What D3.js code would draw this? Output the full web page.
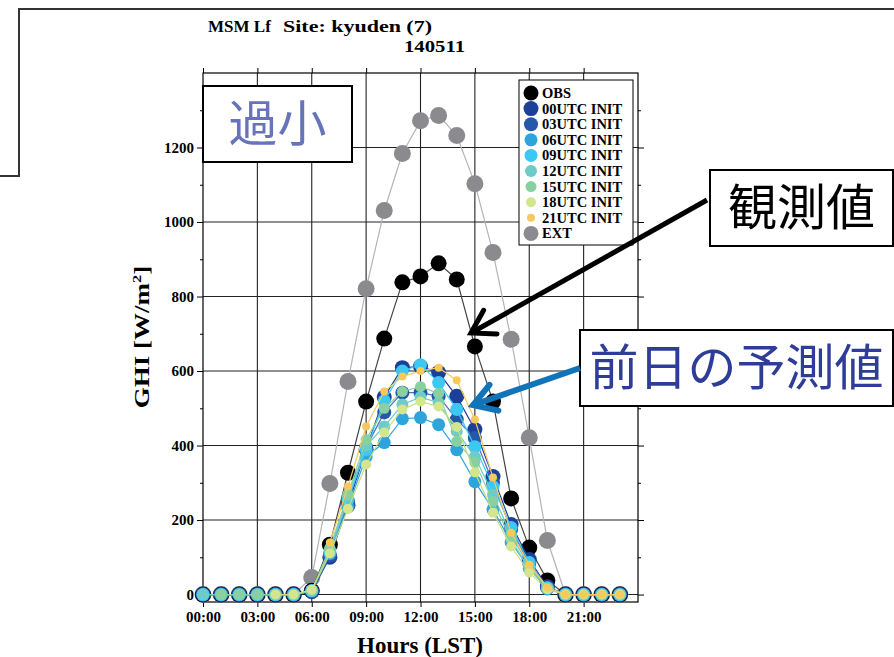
<!DOCTYPE html>
<html>
<head>
<meta charset="utf-8">
<script src="https://cdn.jsdelivr.net/npm/d3@7"></script>
<style>
  body { margin: 0; background: #fff; }
  svg text { font-family: "Liberation Serif", "Times New Roman", serif; font-weight: bold; fill: #000; }
  svg text.jp { font-family: "Noto Sans CJK JP", sans-serif; font-weight: normal; }
</style>
</head>
<body>
<svg id="chart" width="894" height="657"></svg>
<script>
// hours of the day (LST)
const hours = [0,1,2,3,4,5,6,7,8,9,10,11,12,13,14,15,16,17,18,19,20,21,22,23];

// GHI [W/m2], null = no forecast for that hour
const ext   = [0,0,0,0,0,0,46,298,572,821,1031,1184,1272,1286,1232,1103,918,685,421,145,0,0,0,0];
const obs   = [0,0,0,0,0,0,10,134,327,518,687,838,854,889,846,666,518,258,126,38,0,0,0,0];
const f00   = [0,0,0,0,0,0,8,100,240,390,530,609,612,596,532,443,317,188,94,21,0,0,0,0];
const f03   = [0,0,0,0,0,0,9,105,250,395,489,542,542,532,470,420,300,175,85,18,0,0,0,0];
const f06   = [0,0,0,0,0,0,10,110,235,370,408,472,475,456,389,303,228,140,70,15,0,0,0,0];
const f09   = [0,0,0,0,0,0,10,115,255,389,520,600,617,569,497,397,290,180,86,18,0,0,0,0];
const f12   = [0,0,0,0,0,0,10,120,265,400,451,510,530,515,438,370,268,160,75,17,0,0,0,0];
const f15   = [null,0,0,0,0,0,11,125,270,416,500,545,558,540,411,355,250,148,68,16,0,0,0,0];
const f18   = [null,null,null,null,0,0,13,110,230,349,435,497,518,505,450,328,220,129,59,14,0,0,0,0];
const f21   = [null,null,null,null,null,null,null,140,290,451,545,585,600,609,575,470,314,166,80,19,0,0,0,0];

const seriesNames  = ["EXT","OBS","00UTC INIT","03UTC INIT","06UTC INIT","09UTC INIT","12UTC INIT","15UTC INIT","18UTC INIT","21UTC INIT"];
const seriesValues = [ext, obs, f00, f03, f06, f09, f12, f15, f18, f21];
const legendOrder  = ["OBS","00UTC INIT","03UTC INIT","06UTC INIT","09UTC INIT","12UTC INIT","15UTC INIT","18UTC INIT","21UTC INIT","EXT"];

const xTicks = [0,3,6,9,12,15,18,21];
const yTicks = [0,200,400,600,800,1000,1200];
const yMinor = [100,300,500,700,900,1100,1300];

const style = {
  "EXT":        {fill: "#8b8b8f", line: "#b4b4b4", r: 8.5},
  "OBS":        {fill: "#000000", line: "#444444", r: 8},
  "00UTC INIT": {fill: "#1c3f98", line: "#1c3f98", r: 7.5},
  "03UTC INIT": {fill: "#2658aa", line: "#4b6fba", r: 7},
  "06UTC INIT": {fill: "#2ea4dd", line: "#2ea4dd", r: 6.5},
  "09UTC INIT": {fill: "#3cc8f3", line: "#3cc8f3", r: 6.5},
  "12UTC INIT": {fill: "#6ecbc8", line: "#6ecbc8", r: 6},
  "15UTC INIT": {fill: "#88d0a0", line: "#88d0a0", r: 5.5},
  "18UTC INIT": {fill: "#d3e58d", line: "#c5de7c", r: 5},
  "21UTC INIT": {fill: "#f5c95b", line: "#f5c95b", r: 4}
};

const svg = d3.select("#chart");

// slide frame behind the chart
svg.append("path")
  .attr("d", "M0,176 H19 V9 H894")
  .attr("fill", "none").attr("stroke", "#333").attr("stroke-width", 2);

const x = d3.scaleLinear().domain([0, 24]).range([203, 638]);
const y = d3.scaleLinear().domain([-20, 1400]).range([602, 73]);

// grid
svg.append("g").selectAll("line").data(yTicks).enter().append("line")
  .attr("x1", x(0)).attr("x2", x(24))
  .attr("y1", d => y(d)).attr("y2", d => y(d))
  .attr("stroke", "#222").attr("stroke-width", 1.1);
svg.append("g").selectAll("line").data(xTicks.slice(1)).enter().append("line")
  .attr("x1", d => x(d)).attr("x2", d => x(d))
  .attr("y1", y(1400)).attr("y2", y(-20))
  .attr("stroke", "#222").attr("stroke-width", 1.1);

svg.append("rect")
  .attr("x", x(0)).attr("y", y(1400))
  .attr("width", x(24) - x(0)).attr("height", y(-20) - y(1400))
  .attr("fill", "none").attr("stroke", "#000").attr("stroke-width", 1.2);

// axes
function styleAxis(g) {
  g.select(".domain").remove();
  g.selectAll(".tick line").attr("stroke", "#000");
  g.selectAll("text").attr("font-size", 15).attr("fill", "#000")
    .attr("font-family", "Liberation Serif, Times New Roman, serif").attr("font-weight", "bold");
}
svg.append("g").attr("transform", `translate(${x(0)},0)`)
  .call(d3.axisLeft(y).tickValues(yTicks).tickSize(6).tickPadding(3).tickFormat(d3.format("d"))).call(styleAxis);
svg.append("g").attr("transform", `translate(${x(0)},0)`)
  .call(d3.axisLeft(y).tickValues(yMinor).tickSize(3).tickFormat("")).call(styleAxis);
svg.append("g").attr("transform", `translate(${x(24)},0)`)
  .call(d3.axisRight(y).tickValues(yTicks).tickSize(6).tickFormat("")).call(styleAxis);
svg.append("g").attr("transform", `translate(${x(24)},0)`)
  .call(d3.axisRight(y).tickValues(yMinor).tickSize(3).tickFormat("")).call(styleAxis);
svg.append("g").attr("transform", `translate(0,${y(-20)})`)
  .call(d3.axisBottom(x).tickValues(xTicks).tickSize(5).tickPadding(4)
    .tickFormat(d => String(d).padStart(2, "0") + ":00")).call(styleAxis);
svg.append("g").attr("transform", `translate(0,${y(1400)})`)
  .call(d3.axisTop(x).tickValues(xTicks).tickSize(5).tickFormat("")).call(styleAxis);

// series
const line = d3.line()
  .defined(d => d.v != null)
  .x(d => x(d.h)).y(d => y(d.v));

seriesNames.forEach((name, i) => {
  const pts = hours.map((h, j) => ({h: h, v: seriesValues[i][j]}));
  const s = style[name];
  const g = svg.append("g");
  g.append("path").datum(pts)
    .attr("d", line)
    .attr("fill", "none").attr("stroke", s.line).attr("stroke-width", 1.2);
  g.selectAll("circle").data(pts.filter(d => d.v != null)).enter().append("circle")
    .attr("cx", d => x(d.h)).attr("cy", d => y(d.v)).attr("r", s.r)
    .attr("fill", s.fill);
});

// legend
const lg = svg.append("g");
lg.append("rect").attr("x", 519).attr("y", 80).attr("width", 114).attr("height", 165)
  .attr("fill", "#fff").attr("stroke", "#000").attr("stroke-width", 1);
legendOrder.forEach((name, i) => {
  const yy = 93 + i * 15.6;
  lg.append("circle").attr("cx", 531).attr("cy", yy)
    .attr("r", Math.min(style[name].r, 7.5)).attr("fill", style[name].fill);
  lg.append("text").attr("x", 542).attr("y", yy + 5)
    .attr("font-size", 14.5).text(name);
});

// titles
function fitText(tx, ty, size, len, str, anchor) {
  return svg.append("text").attr("x", tx).attr("y", ty).attr("font-size", size)
    .attr("text-anchor", anchor || "start")
    .attr("textLength", len).attr("lengthAdjust", "spacingAndGlyphs").text(str);
}
svg.append("text").attr("x", 208).attr("y", 32).attr("font-size", 17).text("MSM Lf");
fitText(283, 32, 17, 149, "Site: kyuden (7)");
fitText(404, 52, 17, 61, "140511");

const yl = svg.append("text")
  .attr("transform", "translate(149,337) rotate(-90) scale(1.35,1)")
  .attr("text-anchor", "middle").attr("font-size", 20);
yl.append("tspan").text("GHI [W/m");
yl.append("tspan").attr("font-size", 12).attr("dy", -8).text("2");
yl.append("tspan").attr("dy", 8).text("]");

svg.append("text").attr("x", 420).attr("y", 653).attr("text-anchor", "middle")
  .attr("font-size", 23).text("Hours (LST)");

// callout boxes
function callout(bx, by, bw, bh, label, color) {
  svg.append("rect").attr("x", bx).attr("y", by).attr("width", bw).attr("height", bh)
    .attr("fill", "#fff").attr("stroke", "#000").attr("stroke-width", 2);
  svg.append("text").attr("class", "jp")
    .attr("x", bx + bw / 2).attr("y", by + bh / 2 + 17)
    .attr("text-anchor", "middle").attr("font-size", 49)
    .style("fill", color).text(label);
}
callout(203, 86, 149, 76, "過小", "#6874ba");
callout(710, 170, 183, 76, "観測値", "#000");
callout(580, 330, 313, 76, "前日の予測値", "#2e3d98");

// arrows
function arrow(x1, y1, x2, y2, color, w) {
  const a = Math.atan2(y2 - y1, x2 - x1);
  const len = 26, spread = 0.55;
  svg.append("line").attr("x1", x1).attr("y1", y1).attr("x2", x2 - 3 * Math.cos(a)).attr("y2", y2 - 3 * Math.sin(a))
    .attr("stroke", color).attr("stroke-width", w);
  svg.append("path")
    .attr("d", `M${x2 - len * Math.cos(a - spread)},${y2 - len * Math.sin(a - spread)} L${x2},${y2} L${x2 - len * Math.cos(a + spread)},${y2 - len * Math.sin(a + spread)}`)
    .attr("fill", "none").attr("stroke", color).attr("stroke-width", w)
    .attr("stroke-linejoin", "miter").attr("stroke-linecap", "round");
}
arrow(707, 200, 471, 333, "#000", 5);
arrow(580, 368, 473, 405, "#1274b8", 6);
</script>
</body>
</html>
